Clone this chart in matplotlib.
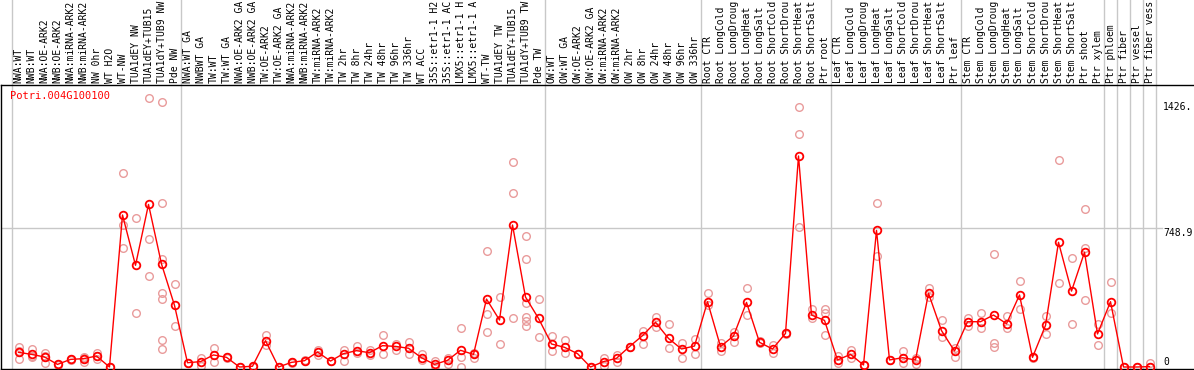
import matplotlib
matplotlib.use('Agg')
import matplotlib.pyplot as plt

gene = "Potri.004G100100"

samples = [
    "NWA:WT", "NWB:WT", "NWA:OE-ARK2", "NWB:OE-ARK2", "NWA:miRNA-ARK2",
    "NWB:miRNA-ARK2", "NW 0hr", "WT H2O", "WT-NW", "TUA1dEY NW",
    "TUA1dEY+TUB15 NW", "TUA1dY+TUB9 NW", "Pde NW",
    "NWA:WT GA", "NWBWT GA", "TW:WT", "TW:WT GA", "NWA:OE-ARK2 GA",
    "NWB:OE-ARK2 GA", "TW:OE-ARK2", "TW:OE-ARK2 GA", "NWA:miRNA-ARK2",
    "NWB:miRNA-ARK2", "TW:miRNA-ARK2", "TW:miRNA-ARK2", "TW 2hr", "TW 8hr",
    "TW 24hr", "TW 48hr", "TW 96hr", "TW 336hr", "WT ACC", "35S::etr1-1 H2O",
    "35S::etr1-1 ACC", "LMX5::etr1-1 H2O", "LMX5::etr1-1 ACC", "WT-TW",
    "TUA1dEY TW", "TUA1dEY+TUB15 TW", "TUA1dY+TUB9 TW", "Pde TW",
    "OW:WT", "OW:WT GA", "OW:OE-ARK2", "OW:OE-ARK2 GA", "OW:miRNA-ARK2",
    "OW:miRNA-ARK2", "OW 2hr", "OW 8hr", "OW 24hr", "OW 48hr", "OW 96hr",
    "OW 336hr",
    "Root CTR", "Root LongCold", "Root LongDrought", "Root LongHeat",
    "Root LongSalt", "Root ShortCold", "Root ShortDrought", "Root ShortHeat",
    "Root ShortSalt", "Ptr root",
    "Leaf CTR", "Leaf LongCold", "Leaf LongDrought", "Leaf LongHeat",
    "Leaf LongSalt", "Leaf ShortCold", "Leaf ShortDrought", "Leaf ShortHeat",
    "Leaf ShortSalt", "Ptr leaf",
    "Stem CTR", "Stem LongCold", "Stem LongDrought", "Stem LongHeat",
    "Stem LongSalt", "Stem ShortCold", "Stem ShortDrought", "Stem ShortHeat",
    "Stem ShortSalt", "Ptr shoot", "Ptr xylem",
    "Ptr phloem", "Ptr fiber", "Ptr vessel", "Ptr fiber vessel",
]

# mean expression per sample
means = [
    79, 68, 54, 14, 41, 45, 59, 0, 819, 548, 876, 555, 332,
    23, 29, 65, 52, 0, 4, 142, 0, 25, 34, 81, 32, 72, 88, 77, 115, 111, 101,
    50, 14, 36, 90, 68, 366, 253, 765, 377, 262,
    124, 106, 72, 0, 29, 47, 110, 169, 241, 154, 97, 113,
    352, 110, 167, 348, 133, 97, 181, 1137, 280, 251,
    38, 68, 11, 736, 38, 50, 38, 397, 196, 86,
    244, 244, 280, 233, 388, 52, 224, 672, 409, 618, 178,
    352, 0, 0, 2,
]

# individual replicates per sample
replicates = [
    [110, 41, 85], [95, 56, 60], [77, 23, 60], [14, 12], [41, 40],
    [56, 25, 50], [74, 45, 58], [0, 2], [1043, 765, 639], [803, 289],
    [1449, 688, 490], [1428, 882, 580, 400, 365, 145, 97], [447, 221],
    [23, 20], [50, 5], [101, 29], [52, 50], [0, 2], [4, 2], [172, 119],
    [0, 2], [25, 24], [34, 36], [92, 65], [32, 30], [92, 32], [113, 74],
    [92, 65], [172, 68], [124, 92], [133, 72], [68, 38], [32, 5], [50, 18],
    [208, 56, 2], [77, 50], [625, 284, 187], [375, 122], [1103, 936, 262],
    [704, 582, 343, 271, 248, 221], [365, 160],
    [169, 86], [145, 74], [72, 70], [0, 2], [47, 5], [65, 29], [110, 108],
    [194, 122], [271, 217], [230, 101], [131, 47], [149, 68],
    [397, 334], [128, 88], [190, 136], [424, 280], [140, 128], [119, 74],
    [181, 178], [1403, 1254, 753], [313, 262], [313, 289, 172],
    [59, 20], [92, 47], [11, 9], [882, 600], [38, 36], [86, 20], [50, 14],
    [427, 375], [253, 160], [104, 56],
    [266, 223], [289, 212], [607, 128, 106], [277, 208], [463, 311],
    [52, 50], [275, 176], [1114, 454], [585, 230], [851, 639, 361],
    [232, 117],
    [456, 289], [0, 2], [0, 2], [20, 0],
]

# index of the last sample in each group
group_ends = [12, 40, 52, 62, 72, 83, 84, 85, 86, 87]

ytick_labels = ["1426.", "748.9", "0"]
ytick_values = [1426, 748.9, 0]

W, H = 1194, 370
RED = '#ff0000'
PINK = '#e99b9b'
GRAY = '#c8c8c8'
MONO = 'DejaVu Sans Mono'
MAXCHARS = 14  # header only has room for 14 characters


def main():
    fig = plt.figure(figsize=(W / 100, H / 100), dpi=100)
    # axes box in pixels: x 1..1194, y 85..369 (from top)
    ax = fig.add_axes([1 / W, 1 / H, (W - 1) / W, 284 / H])

    # pixel -> data mapping: column i sits at 18.5 + 13*i px
    ax.set_xlim((1 - 18.5) / 13, (W - 18.5) / 13)
    ax.set_ylim((367 - 369) / 0.1856, (367 - 85) / 0.1856)
    ax.set_xticks([])
    ax.set_yticks([])
    ax.spines['right'].set_visible(False)
    for s in ('left', 'top', 'bottom'):
        ax.spines[s].set_linewidth(1)
        ax.spines[s].set_color('black')

    # group separators, running up through the label header
    for b in [-0.5] + [e + 0.5 for e in group_ends]:
        ax.axvline(b, ymin=0, ymax=1 + 85 / 284, color=GRAY, lw=1,
                   clip_on=False, zorder=1)
    ax.axhline(748.9, xmin=0, xmax=(1162 - 1) / (W - 1), color=GRAY, lw=1,
               zorder=1)

    xs, ys = [], []
    for i, reps in enumerate(replicates):
        for r in reps:
            xs.append(i)
            ys.append(r)
    ax.plot(xs, ys, 'o', mfc='none', mec=PINK, ms=5.5, mew=1, zorder=2)
    ax.plot(range(len(means)), means, '-', color=RED, lw=1, marker='o',
            mfc='none', mec=RED, ms=5.5, mew=1.3, zorder=3)

    trans = ax.get_xaxis_transform()
    for i, lab in enumerate(samples):
        ax.text(i, 1 + 2 / 284, lab[:MAXCHARS].rstrip(), transform=trans,
                rotation=90, ha='center', va='bottom', fontsize=7,
                family=MONO, clip_on=False)

    xlab = (1163 - 18.5) / 13
    for lab, v in zip(ytick_labels, ytick_values):
        ax.text(xlab, v, lab, ha='left', va='bottom' if v == 0 else 'top',
                fontsize=7, family=MONO)

    fig.text(10 / W, 1 - 91 / H, gene, color=RED, ha='left', va='top',
             fontsize=7.5, family=MONO)

    plt.savefig('out.png', dpi=100)
    plt.close()


if __name__ == '__main__':
    main()
